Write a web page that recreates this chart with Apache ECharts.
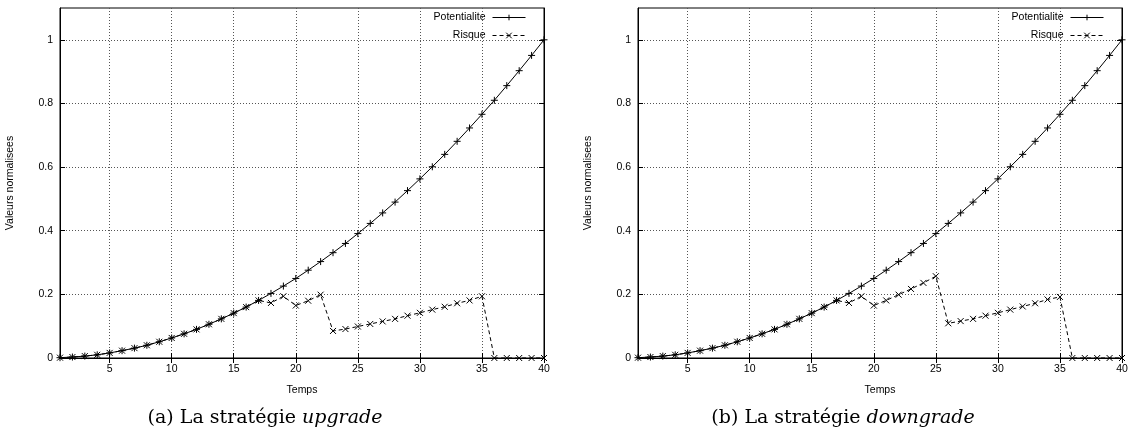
<!DOCTYPE html>
<html>
<head>
<meta charset="utf-8">
<script src="https://cdn.jsdelivr.net/npm/echarts@6/dist/echarts.min.js"></script>
<style>
html,body{margin:0;padding:0;background:#fff;}
#c{width:1139px;height:436px;}
</style>
</head>
<body>
<div id="c"></div>
<script>
// ---- data ----
const temps = [1,2,3,4,5,6,7,8,9,10,11,12,13,14,15,16,17,18,19,20,21,22,23,24,25,26,27,28,29,30,31,32,33,34,35,36,37,38,39,40];
const potentialite = [0.001,0.003,0.006,0.010,0.016,0.023,0.031,0.040,0.051,0.063,0.076,0.090,0.106,0.123,0.141,0.160,0.181,0.203,0.226,0.250,0.276,0.303,0.331,0.360,0.391,0.423,0.456,0.490,0.526,0.563,0.601,0.640,0.681,0.723,0.766,0.810,0.856,0.903,0.951,1.000];
const risqueUpgrade = [0.001,0.003,0.006,0.010,0.016,0.023,0.031,0.040,0.051,0.063,0.076,0.090,0.106,0.123,0.141,0.160,0.181,0.173,0.194,0.165,0.180,0.199,0.085,0.091,0.099,0.107,0.115,0.123,0.133,0.142,0.152,0.161,0.172,0.181,0.194,0,0,0,0,0];
const risqueDowngrade = [0.001,0.003,0.006,0.010,0.016,0.023,0.031,0.040,0.051,0.063,0.076,0.090,0.106,0.123,0.141,0.160,0.181,0.173,0.194,0.165,0.181,0.199,0.217,0.236,0.257,0.109,0.116,0.123,0.133,0.142,0.152,0.162,0.172,0.184,0.192,0,0,0,0,0];
const xTicks = [5,10,15,20,25,30,35,40];
const yTicks = [0,0.2,0.4,0.6,0.8,1];
const captions = ['(a) La stratégie ', '(b) La stratégie '];
const captionItalic = ['upgrade', 'downgrade'];
const xName = 'Temps';
const yName = 'Valeurs normalisees';
const seriesNames = ['Potentialite', 'Risque'];

// ---- chart ----
const chart = echarts.init(document.getElementById('c'));
const sans = 'Liberation Sans';
const plusSym = 'path://M0,5L10,5M5,0L5,10';
const crossSym = 'path://M0,0L10,10M10,0L0,10';
const pair = (ys) => temps.map((t, i) => [t, ys[i]]);

const grids = [
  {left: 60, right: 595, top: 8, bottom: 78},
  {left: 638, right: 17, top: 8, bottom: 78}
];
const gridLine = {show: true, lineStyle: {color: '#555', type: [1, 2], width: 1}};

const xAxes = [], yAxes = [], series = [], legends = [], titles = [];
grids.forEach((g, gi) => {
  g.show = true; g.borderColor = '#000'; g.borderWidth = 1; g.containLabel = false;
  xAxes.push({
    type: 'value', gridIndex: gi, min: 1, max: 40,
    name: xName, nameLocation: 'middle', nameGap: 27,
    nameTextStyle: {fontFamily: sans, fontSize: 10.5, color: '#000'},
    axisLine: {show: true, lineStyle: {color: '#000', width: 1}},
    axisTick: {show: true, inside: true, length: 5, customValues: xTicks, lineStyle: {color: '#000'}},
    axisLabel: {customValues: xTicks, fontFamily: sans, fontSize: 10.5, color: '#000', margin: 6, showMaxLabel: true, showMinLabel: true},
    splitLine: gridLine
  });
  xAxes.push({
    type: 'value', gridIndex: gi, min: 1, max: 40, position: 'top',
    axisLine: {show: true, lineStyle: {color: '#000', width: 1}},
    axisTick: {show: true, inside: true, length: 5, customValues: xTicks, lineStyle: {color: '#000'}},
    axisLabel: {show: false}, splitLine: {show: false}
  });
  yAxes.push({
    type: 'value', gridIndex: gi, min: 0, max: 1.1,
    name: yName, nameLocation: 'middle', nameGap: 44, nameRotate: 90,
    nameTextStyle: {fontFamily: sans, fontSize: 10.5, color: '#000'},
    axisLine: {show: true, lineStyle: {color: '#000', width: 1}},
    axisTick: {show: true, inside: true, length: 5, customValues: yTicks, lineStyle: {color: '#000'}},
    axisLabel: {customValues: yTicks, fontFamily: sans, fontSize: 10.5, color: '#000', margin: 7},
    splitLine: gridLine
  });
  yAxes.push({
    type: 'value', gridIndex: gi, min: 0, max: 1.1, position: 'right',
    axisLine: {show: true, lineStyle: {color: '#000', width: 1}},
    axisTick: {show: true, inside: true, length: 5, customValues: yTicks, lineStyle: {color: '#000'}},
    axisLabel: {show: false}, splitLine: {show: false}
  });
  const risk = gi === 0 ? risqueUpgrade : risqueDowngrade;
  series.push({
    name: seriesNames[0], type: 'line', xAxisIndex: gi * 2, yAxisIndex: gi * 2,
    data: pair(potentialite), symbol: plusSym, symbolSize: 7, showSymbol: true, clip: false,
    lineStyle: {color: '#000', width: 1, type: 'solid'},
    itemStyle: {color: '#000', borderColor: '#000', borderWidth: 1},
    animation: false
  });
  series.push({
    name: seriesNames[1], type: 'line', xAxisIndex: gi * 2, yAxisIndex: gi * 2,
    data: pair(risk), symbol: crossSym, symbolSize: 6, showSymbol: true, clip: false,
    lineStyle: {color: '#000', width: 1, type: [4, 3]},
    itemStyle: {color: '#000', borderColor: '#000', borderWidth: 1},
    animation: false
  });
  legends.push({
    orient: 'vertical', right: gi === 0 ? 608 : 30, top: 7, align: 'right',
    itemWidth: 33, itemHeight: 7, itemGap: 7,
    lineStyle: {width: 1},
    itemStyle: {borderWidth: 1},
    textStyle: {fontFamily: sans, fontSize: 10.5, color: '#000', padding: [0, 2, 0, 0]},
    selectedMode: false,
    data: seriesNames
  });
  titles.push({
    text: '{n|' + captions[gi] + '}{i|' + captionItalic[gi] + '}',
    left: gi === 0 ? 260 : 838, top: 404, textAlign: 'center',
    textStyle: {
      fontWeight: 'normal',
      rich: {
        n: {fontFamily: 'DejaVu Serif', fontSize: 19, fontWeight: 'normal', color: '#000'},
        i: {fontFamily: 'DejaVu Serif', fontSize: 19, fontWeight: 'normal', fontStyle: 'italic', color: '#000'}
      }
    }
  });
});

chart.setOption({
  animation: false,
  backgroundColor: '#fff',
  title: titles,
  legend: legends,
  grid: grids,
  xAxis: xAxes,
  yAxis: yAxes,
  series: series
});
</script>
</body>
</html>
